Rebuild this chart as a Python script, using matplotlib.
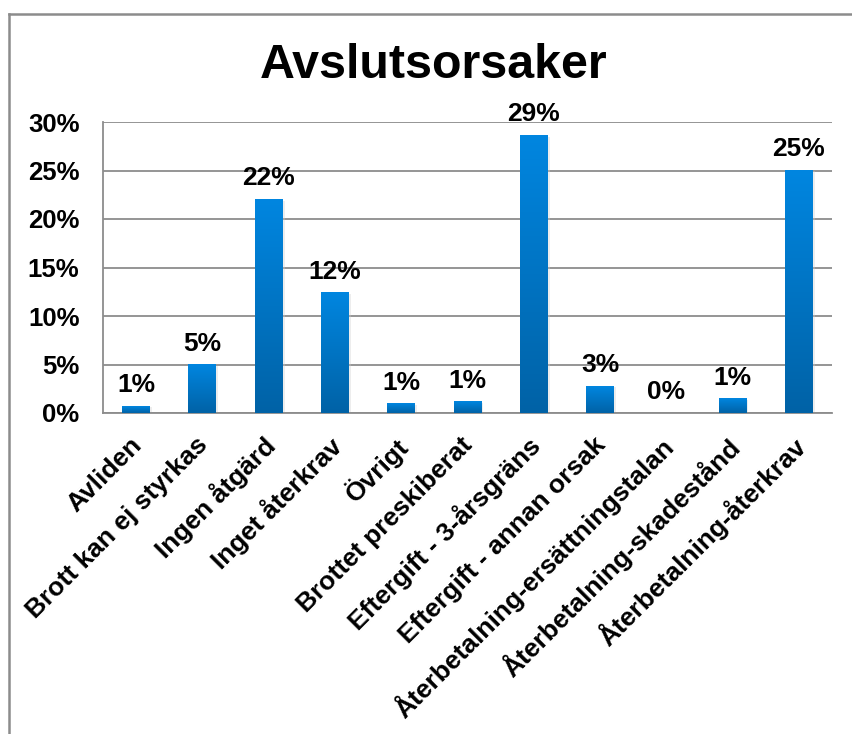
import matplotlib
matplotlib.use("Agg")
import matplotlib.pyplot as plt
import numpy as np
from matplotlib.colors import LinearSegmentedColormap
from matplotlib.lines import Line2D
from matplotlib.transforms import ScaledTranslation

plt.rcParams['font.family'] = ['Liberation Sans', 'DejaVu Sans']
plt.rcParams['font.weight'] = 'bold'

title = "Avslutsorsaker"
categories = ["Avliden", "Brott kan ej styrkas", "Ingen åtgärd", "Inget återkrav",
              "Övrigt", "Brottet preskiberat", "Eftergift - 3-årsgräns",
              "Eftergift - annan orsak", "Återbetalning-ersättningstalan",
              "Återbetalning-skadestånd", "Återbetalning-återkrav"]
values = [0.72, 4.95, 22.05, 12.45, 0.93, 1.16, 28.65, 2.78, 0.0, 1.45, 25.05]
value_labels = ["1%", "5%", "22%", "12%", "1%", "1%", "29%", "3%", "0%", "1%", "25%"]
yticks = [0, 5, 10, 15, 20, 25, 30]
ytick_labels = ["0%", "5%", "10%", "15%", "20%", "25%", "30%"]

fig = plt.figure(figsize=(8.52, 7.34), dpi=100)
ax = fig.add_axes([103/852, 1-413/734, (832-103)/852, (413-122)/734])

x = np.arange(len(categories))
bw = 0.42
bars = ax.bar(x, values, width=bw, color='none', edgecolor='none', zorder=3)

cmap = LinearSegmentedColormap.from_list("g", ["#0062A6", "#0086E0"])
grad = np.linspace(0, 1, 256).reshape(-1, 1)
for b in bars:
    h = b.get_height()
    if h <= 0:
        continue
    x0 = b.get_x()
    ax.bar(x0 + bw/2 + 0.03, h, width=bw, bottom=-0.15, color='#cccccc', alpha=0.35, zorder=2, edgecolor='none')
    ax.imshow(grad, extent=[x0, x0 + bw, 0, h], origin='lower', aspect='auto',
              cmap=cmap, zorder=3)

for xi, v, lab in zip(x, values, value_labels):
    ax.text(xi, v + 0.9, lab, ha='center', va='bottom', fontsize=19, fontweight='bold', zorder=4)

ax.set_xlim(-0.5, len(categories) - 0.5)
ax.set_ylim(0, 30)
ax.set_yticks(yticks)
ax.set_yticklabels(ytick_labels, fontsize=18.5, fontweight='bold')
ax.set_xticks(x)
ax.set_xticklabels(categories, rotation=45, ha='right', rotation_mode='anchor',
                   fontsize=19, fontweight='bold')
ax.tick_params(axis='both', length=0)
ax.tick_params(axis='y', pad=17)
ax.tick_params(axis='x', pad=14)
off = ScaledTranslation(-7/100, 0, fig.dpi_scale_trans)
for lbl in ax.get_xticklabels():
    lbl.set_transform(lbl.get_transform() + off)
ax.yaxis.grid(True, color='#8c8c8c', linewidth=1.3, zorder=0)
ax.set_axisbelow(True)
for s in ['top', 'right']:
    ax.spines[s].set_visible(False)
for s in ['left', 'bottom']:
    ax.spines[s].set_color('#8c8c8c')
    ax.spines[s].set_linewidth(1.3)

fig.text(434/852, 1 - 65/734, title, ha='center', va='center', fontsize=34.8, fontweight='bold')

fig.add_artist(Line2D([9/852, 1.0], [1 - 13.5/734, 1 - 13.5/734], color='#8c8c8c', linewidth=1.8, transform=fig.transFigure))
fig.add_artist(Line2D([9/852, 9/852], [0, 1 - 13.5/734], color='#8c8c8c', linewidth=1.8, transform=fig.transFigure))

fig.savefig("out.png", dpi=100)
